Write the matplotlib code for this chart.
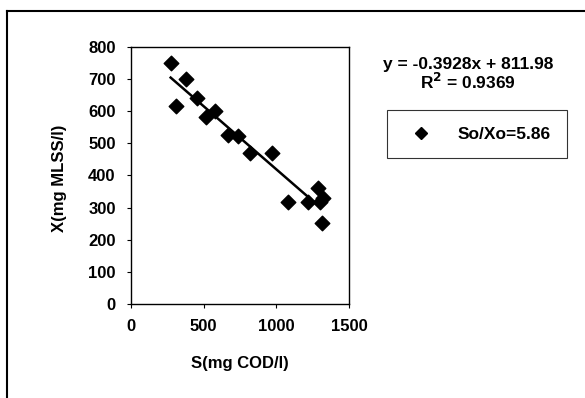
import matplotlib
matplotlib.use('Agg')

import numpy as np
import matplotlib.pyplot as plt
from matplotlib.lines import Line2D

# -------------------
# Data
# -------------------
s_cod = [273, 310, 378, 457, 516, 578, 670, 739, 819, 968, 1083, 1220, 1289, 1324, 1300, 1312]
x_mlss = [750, 615, 700, 641, 582, 602, 526, 524, 469, 469, 317, 319, 360, 329, 318, 253]

slope = -0.3928
intercept = 811.98
eq_text = 'y = -0.3928x + 811.98'
r2_text = 'R$^2$ = 0.9369'
series_label = 'So/Xo=5.86'

plt.rcParams['font.family'] = ['Liberation Sans', 'DejaVu Sans']
plt.rcParams['font.weight'] = 'bold'
plt.rcParams['mathtext.default'] = 'bf'

# -------------------
# Plot
# -------------------
fig = plt.figure(figsize=(5.85, 3.98), dpi=100)
ax = fig.add_axes([0.2239, 0.2362, 0.3727, 0.6457])

ax.scatter(s_cod, x_mlss, marker='D', s=55, color='black', zorder=3)

xfit = np.array([min(s_cod), 1232])
ax.plot(xfit, slope * xfit + intercept, color='black', lw=1.8)

ax.set_xlim(0, 1500)
ax.set_ylim(0, 800)
ax.set_xticks([0, 500, 1000, 1500])
ax.set_yticks(range(0, 801, 100))
ax.tick_params(labelsize=12, length=3, width=0.8, pad=8)
for lab in ax.get_xticklabels() + ax.get_yticklabels():
    lab.set_fontweight('bold')
for sp in ax.spines.values():
    sp.set_linewidth(1.0)

ax.set_xlabel('S(mg COD/l)', fontsize=12, fontweight='bold', va='center', ha='center')
ax.xaxis.set_label_coords(0.5, -0.233)
ax.set_ylabel('X(mg MLSS/l)', fontsize=12, fontweight='bold', va='center', ha='center')
ax.yaxis.set_label_coords(-0.33, 0.49)

# trend line equation
fig.text(468 / 585, 1 - 64 / 398, eq_text, ha='center', va='center', fontsize=12.5, fontweight='bold')
fig.text(468 / 585, 1 - 82 / 398, r2_text, ha='center', va='center', fontsize=12.5, fontweight='bold')

# legend box
handle = Line2D([], [], marker='D', ls='none', color='black', markersize=6)
leg = fig.legend([handle], [series_label], loc='upper left',
                 bbox_to_anchor=(387 / 585, 1 - 110 / 398),
                 fontsize=12.5, frameon=True, fancybox=False, borderpad=0.95,
                 handlelength=2.0, handletextpad=1.1, borderaxespad=0)
leg.get_frame().set_edgecolor('black')
leg.get_frame().set_linewidth(0.8)
for t in leg.get_texts():
    t.set_fontweight('bold')

# outer frame (left and top edges only)
fig.add_artist(Line2D([7 / 585, 7 / 585], [0, 1 - 11 / 398], color='black', lw=1.5))
fig.add_artist(Line2D([7 / 585, 1], [1 - 11 / 398, 1 - 11 / 398], color='black', lw=1.5))

fig.savefig('out.png', dpi=100)
